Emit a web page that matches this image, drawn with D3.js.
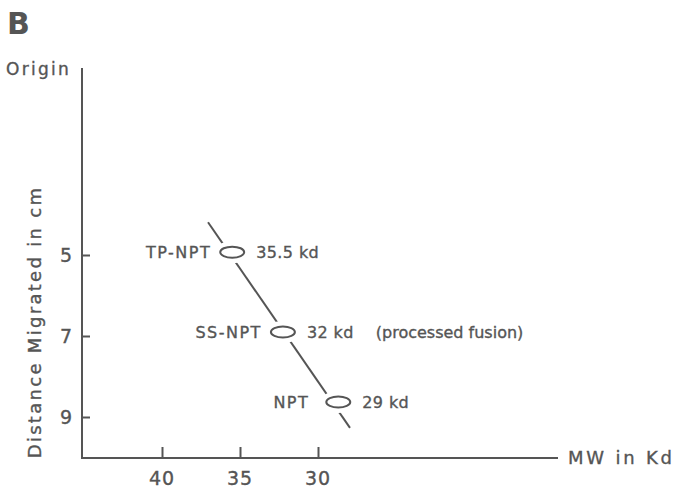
<!DOCTYPE html>
<html>
<head>
<meta charset="utf-8">
<script src="https://cdn.jsdelivr.net/npm/d3@7"></script>
<style>
  body { margin: 0; background: #fff; }
  svg text { font-family: "DejaVu Sans", sans-serif; fill: #555; stroke: #555; stroke-width: 0.35px; }
</style>
</head>
<body>
<svg id="chart" width="675" height="489"></svg>
<script>
// molecular weight ticks (kd) and migration ticks (cm)
const xTicks = [40, 35, 30];
const yTicks = [5, 7, 9];

// bands
const proteins = ["TP-NPT", "SS-NPT", "NPT"];
const mwKd = [35.5, 32.25, 28.7];
const distCm = [4.93, 6.9, 8.63];
const mwLabels = ["35.5 kd", "32 kd", "29 kd"];
const notes = ["", "(processed fusion)", ""];

// fitted standard line
const fitMw = [37.05, 27.95];
const fitCm = [4.19, 9.27];

const ink = "#555";
const svg = d3.select("#chart");

const x = d3.scaleLinear().domain([40, 30]).range([162, 318]);
const y = d3.scaleLinear().domain([5, 9]).range([255, 417]);

const axisLeft = 82, axisTop = 68, axisBottom = 458, axisRight = 558;

// panel letter
svg.append("text").attr("x", 7).attr("y", 34)
  .style("font-size", "30px").style("font-weight", "bold").style("stroke-width", 0)
  .text("B");

svg.append("text").attr("x", 6).attr("y", 75)
  .style("font-size", "17px").style("letter-spacing", "2.3px").text("Origin");

// ticks point into the plot, as in the figure
const xAxis = d3.axisTop(x).tickValues(xTicks).tickSize(11).tickFormat("");
svg.append("g").attr("transform", `translate(0,${axisBottom})`).call(xAxis)
  .call(g => g.select(".domain").remove())
  .call(g => g.selectAll("line").attr("stroke", ink).attr("stroke-width", 2));

const yAxis = d3.axisRight(y).tickValues(yTicks).tickSize(8).tickFormat("");
svg.append("g").attr("transform", `translate(${axisLeft},0)`).call(yAxis)
  .call(g => g.select(".domain").remove())
  .call(g => g.selectAll("line").attr("stroke", ink).attr("stroke-width", 2));

svg.append("path")
  .attr("d", `M${axisLeft},${axisTop}V${axisBottom}H${axisRight}`)
  .attr("fill", "none").attr("stroke", ink).attr("stroke-width", 2);

// tick labels
svg.selectAll(".xl").data(xTicks).join("text")
  .attr("x", d => x(d)).attr("y", 485).attr("text-anchor", "middle")
  .style("font-size", "19px").style("letter-spacing", "1px").text(d => d);

svg.selectAll(".yl").data(yTicks).join("text")
  .attr("x", 66).attr("y", d => y(d) + 7).attr("text-anchor", "middle")
  .style("font-size", "19px").text(d => d);

// axis titles
svg.append("text").attr("x", 568).attr("y", 464)
  .style("font-size", "18px").style("letter-spacing", "2.8px").text("MW in Kd");

svg.append("text")
  .attr("transform", "translate(41,322) rotate(-90)")
  .attr("text-anchor", "middle")
  .style("font-size", "18px").style("letter-spacing", "2.3px")
  .text("Distance Migrated in cm");

// standard curve
svg.append("line")
  .attr("x1", x(fitMw[0])).attr("y1", y(fitCm[0]))
  .attr("x2", x(fitMw[1])).attr("y2", y(fitCm[1]))
  .attr("stroke", ink).attr("stroke-width", 2);

const bands = svg.selectAll(".band").data(proteins).join("g")
  .attr("transform", (d, i) => `translate(${x(mwKd[i])},${y(distCm[i])})`);

bands.append("ellipse").attr("rx", 18).attr("ry", 11).attr("fill", "#fff");
bands.append("ellipse").attr("rx", 12).attr("ry", 5.5)
  .attr("fill", "#fff").attr("stroke", ink).attr("stroke-width", 2);

bands.append("text")
  .attr("x", d => d === "NPT" ? -29 : -21).attr("y", 6).attr("text-anchor", "end")
  .style("font-size", "16px").style("letter-spacing", "1.5px").text(d => d);

const right = bands.append("text").attr("x", 24).attr("y", 6)
  .style("font-size", "16px").style("letter-spacing", "0.4px");
right.append("tspan").text((d, i) => mwLabels[i]);
right.append("tspan").attr("dx", 22).style("letter-spacing", "0px").text((d, i) => notes[i]);
</script>
</body>
</html>
